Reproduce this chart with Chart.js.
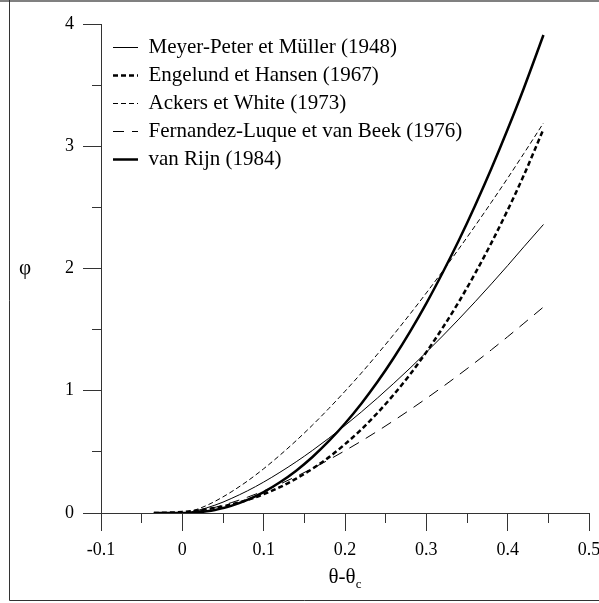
<!DOCTYPE html>
<html>
<head>
<meta charset="utf-8">
<script src="https://cdn.jsdelivr.net/npm/chart.js@4"></script>
<style>
  body { margin: 0; background: #fff; }
  canvas { display: block; }
</style>
</head>
<body>
<canvas id="chart" width="599" height="603"></canvas>
<script>
// theta - theta_c
const xValues = [-0.035, -0.02, -0.01, 0, 0.01, 0.02, 0.03, 0.04, 0.05, 0.06, 0.08, 0.10, 0.12, 0.14, 0.16,
  0.18, 0.20, 0.22, 0.24, 0.26, 0.28, 0.30, 0.32, 0.34, 0.36, 0.38, 0.40, 0.42, 0.444];

const meyerPeter = [0, 0, 0, 0, 0.008, 0.023, 0.042, 0.064, 0.089, 0.118, 0.181, 0.253, 0.333, 0.419, 0.512,
  0.611, 0.716, 0.826, 0.941, 1.061, 1.185, 1.315, 1.448, 1.586, 1.728, 1.874, 2.024, 2.178, 2.36];
const engelund = [0.0003, 0.002, 0.005, 0.009, 0.014, 0.022, 0.031, 0.041, 0.054, 0.07, 0.107, 0.154, 0.211, 0.281, 0.362,
  0.455, 0.563, 0.683, 0.819, 0.969, 1.134, 1.316, 1.514, 1.728, 1.96, 2.21, 2.478, 2.765, 3.14];
const ackers = [0, 0, 0, 0, 0.013, 0.035, 0.062, 0.095, 0.132, 0.172, 0.261, 0.362, 0.473, 0.592, 0.719,
  0.854, 0.996, 1.144, 1.3, 1.461, 1.628, 1.8, 1.978, 2.161, 2.349, 2.542, 2.739, 2.942, 3.19];
const fernandez = [0, 0, 0, 0, 0.006, 0.016, 0.03, 0.046, 0.064, 0.084, 0.129, 0.18, 0.237, 0.299, 0.365,
  0.435, 0.51, 0.588, 0.67, 0.756, 0.845, 0.937, 1.032, 1.13, 1.231, 1.335, 1.442, 1.552, 1.685];
const vanRijn = [0, 0, 0, 0, 0.001, 0.006, 0.014, 0.025, 0.04, 0.058, 0.107, 0.171, 0.251, 0.346, 0.458,
  0.587, 0.732, 0.894, 1.073, 1.27, 1.484, 1.715, 1.965, 2.231, 2.516, 2.818, 3.139, 3.477, 3.91];

const xTickLabels = ['-0.1', '0', '0.1', '0.2', '0.3', '0.4', '0.5'];
const yTickLabels = ['0', '1', '2', '3', '4'];
const xTitle = 'θ-θ';
const xTitleSub = 'c';
const yTitle = 'φ';

const serif = '"Liberation Serif", "Times New Roman", serif';
const pts = arr => xValues.map((x, i) => ({x: x, y: arr[i]}));

function line(label, arr, width, dash) {
  return {
    label: label,
    data: pts(arr),
    showLine: true,
    borderColor: '#000',
    backgroundColor: '#000',
    borderWidth: width,
    borderDash: dash,
    pointRadius: 0,
    cubicInterpolationMode: 'monotone'
  };
}

// frame round the whole figure
const frame = {
  id: 'frame',
  beforeDraw(chart) {
    const ctx = chart.ctx;
    ctx.save();
    ctx.fillStyle = '#808080';
    ctx.fillRect(0, 0, 599, 2);
    ctx.strokeStyle = '#333';
    ctx.lineWidth = 1;
    ctx.beginPath();
    ctx.moveTo(9.5, 0);
    ctx.lineTo(9.5, 600.5);
    ctx.lineTo(599, 600.5);
    ctx.stroke();
    ctx.restore();
  }
};

// axis titles: x with a subscript, y upright
const titles = {
  id: 'titles',
  afterDraw(chart) {
    const {ctx, chartArea} = chart;
    const cx = (chartArea.left + chartArea.right) / 2;
    const cy = (chartArea.top + chartArea.bottom) / 2;
    ctx.save();
    ctx.fillStyle = '#000';
    ctx.textBaseline = 'alphabetic';
    ctx.font = '21px ' + serif;
    const w1 = ctx.measureText(xTitle).width;
    ctx.font = '13px ' + serif;
    const w2 = ctx.measureText(xTitleSub).width;
    const x0 = cx - (w1 + w2) / 2;
    ctx.font = '21px ' + serif;
    ctx.fillText(xTitle, x0, 583);
    ctx.font = '13px ' + serif;
    ctx.fillText(xTitleSub, x0 + w1, 588);

    ctx.font = '21px ' + serif;
    ctx.textAlign = 'center';
    ctx.textBaseline = 'middle';
    ctx.fillText(yTitle, 25, cy);
    ctx.restore();
  }
};

// move the legend a little inside the plot
const legendNudge = {
  id: 'legendNudge',
  afterLayout(chart) {
    chart.legend.left += 5;
    chart.legend.top += 30;
  }
};

const isMinorX = v => Math.round(v * 100) % 10 !== 0;
const isMinorY = v => Math.round(v * 2) % 2 !== 0;

const ctx = document.getElementById('chart').getContext('2d');
const myChart = new Chart(ctx, {
  type: 'scatter',
  data: {
    datasets: [
      line('Meyer-Peter et Müller (1948)', meyerPeter, 1, []),
      line('Engelund et Hansen (1967)', engelund, 2.5, [5, 3]),
      line('Ackers et White (1973)', ackers, 1, [5, 3]),
      line('Fernandez-Luque et van Beek (1976)', fernandez, 1, [11, 8]),
      line('van Rijn (1984)', vanRijn, 2.5, [])
    ]
  },
  options: {
    responsive: false,
    animation: false,
    layout: {padding: {left: 9, top: 24, right: 10, bottom: 3}},
    plugins: {
      legend: {
        position: 'chartArea',
        align: 'start',
        labels: {
          usePointStyle: true,
          pointStyle: 'line',
          pointStyleWidth: 25,
          padding: 7,
          color: '#000',
          font: {family: serif, size: 21},
          generateLabels: chart => chart.data.datasets.map((ds, i) => ({
            text: ds.label,
            strokeStyle: '#000',
            fillStyle: '#000',
            fontColor: '#000',
            lineWidth: ds.borderWidth,
            lineDash: ds.borderDash,
            pointStyle: 'line',
            hidden: false,
            datasetIndex: i
          }))
        }
      },
      title: {display: false},
      tooltip: {enabled: false}
    },
    scales: {
      x: {
        type: 'linear',
        min: -0.1,
        max: 0.5,
        border: {display: true, color: '#333', width: 1},
        grid: {
          drawOnChartArea: false,
          drawTicks: true,
          tickLength: 18,
          tickColor: '#333',
          tickBorderDash: c => isMinorX(c.tick.value) ? [9, 40] : []
        },
        ticks: {
          stepSize: 0.05,
          autoSkip: false,
          maxRotation: 0,
          padding: 8,
          color: '#000',
          font: {family: serif, size: 18},
          callback: v => {
            const k = Math.round(v * 100);
            return k % 10 === 0 ? xTickLabels[(k + 10) / 10] : '';
          }
        },
        afterFit(scale) {
          scale.height = 87;
          scale.paddingLeft = 0;
          scale.paddingRight = 0;
        }
      },
      y: {
        type: 'linear',
        min: 0,
        max: 4,
        border: {display: true, color: '#333', width: 1},
        grid: {
          drawOnChartArea: false,
          drawTicks: true,
          tickLength: 18,
          tickColor: '#333',
          tickBorderDash: c => isMinorY(c.tick.value) ? [0, 9, 9, 40] : []
        },
        ticks: {
          stepSize: 0.5,
          autoSkip: false,
          padding: 9,
          color: '#000',
          font: {family: serif, size: 18},
          callback: v => isMinorY(v) ? '' : yTickLabels[Math.round(v)]
        },
        afterFit(scale) {
          scale.width = 92;
        }
      }
    }
  },
  plugins: [frame, titles, legendNudge]
});
</script>
</body>
</html>
